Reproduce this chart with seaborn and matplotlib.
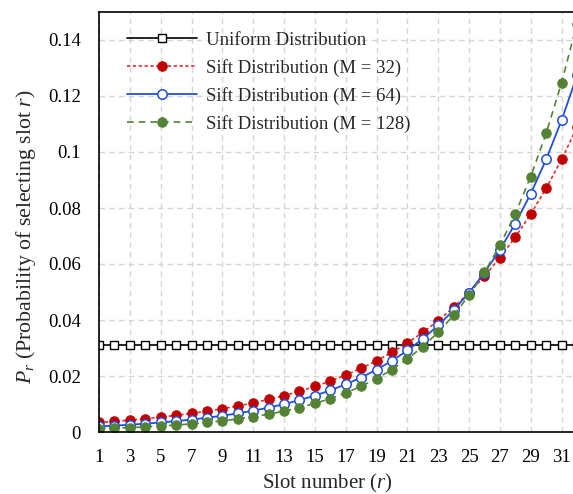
import numpy as np
import pandas as pd
import matplotlib
matplotlib.use("Agg")
import matplotlib.pyplot as plt
import seaborn as sns

slots = list(range(1, 33))
uniform = [0.03125] * 32
sift_32 = [0.003402, 0.003804, 0.004254, 0.004757, 0.005320, 0.005949, 0.006653, 0.007440,
           0.008320, 0.009304, 0.010404, 0.011635, 0.013011, 0.014550, 0.016271, 0.018196,
           0.020348, 0.022755, 0.025447, 0.028457, 0.031823, 0.035587, 0.039797, 0.044504,
           0.049768, 0.055656, 0.062239, 0.069601, 0.077834, 0.087040, 0.097338, 0.108850]
sift_64 = [0.001990, 0.002275, 0.002602, 0.002975, 0.003403, 0.003891, 0.004450, 0.005089,
           0.005819, 0.006655, 0.007610, 0.008703, 0.009952, 0.011381, 0.013015, 0.014883,
           0.017020, 0.019463, 0.022258, 0.025453, 0.029108, 0.033287, 0.038065, 0.043530,
           0.049780, 0.056926, 0.065099, 0.074445, 0.085133, 0.097355, 0.111347, 0.127330]
sift_128 = [0.001140, 0.001333, 0.001559, 0.001823, 0.002131, 0.002492, 0.002915, 0.003409,
            0.003986, 0.004662, 0.005451, 0.006375, 0.007455, 0.008719, 0.010196, 0.011923,
            0.013943, 0.016306, 0.019069, 0.022300, 0.026078, 0.030497, 0.035664, 0.041707,
            0.048774, 0.057038, 0.066702, 0.078004, 0.091221, 0.106676, 0.124731, 0.145863]
labels = ["Uniform Distribution", "Sift Distribution (M = 32)",
          "Sift Distribution (M = 64)", "Sift Distribution (M = 128)"]
x_ticks = list(range(1, 32, 2))
y_ticks = [0, 0.02, 0.04, 0.06, 0.08, 0.1, 0.12, 0.14]
y_ticklabels = ["0", "0.02", "0.04", "0.06", "0.08", "0.1", "0.12", "0.14"]

sns.set_style("white")
plt.rcParams['font.family'] = ['Liberation Serif', 'DejaVu Serif']
plt.rcParams['mathtext.fontset'] = 'custom'
plt.rcParams['mathtext.rm'] = 'Liberation Serif'
plt.rcParams['mathtext.it'] = 'Liberation Serif:italic'

fig = plt.figure(figsize=(5.73, 4.94), dpi=100)
ax = fig.add_axes([99/573, 62/494, 478/573, 420/494])

styles = [
    dict(color="black", linestyle="-", marker="s", markersize=6, markerfacecolor="white",
         markeredgecolor="black", markeredgewidth=1.0, linewidth=1.2),
    dict(color="#E0302A", linestyle=(0, (2, 1.5)), marker="o", markersize=6.8,
         markerfacecolor="#C00000", markeredgecolor="#C00000", linewidth=1.2),
    dict(color="#1F4FE0", linestyle="-", marker="o", markersize=6.8, markerfacecolor="white",
         markeredgecolor="#1F4FE0", markeredgewidth=1.1, linewidth=1.3),
    dict(color="#548235", linestyle=(0, (4, 3)), marker="o", markersize=6.8,
         markerfacecolor="#548235", markeredgecolor="#548235", linewidth=1.2),
]
series = [uniform, sift_32, sift_64, sift_128]

for vals, lab, st in zip(series, labels, styles):
    df = pd.DataFrame({"slot": slots, "p": vals})
    sns.lineplot(data=df, x="slot", y="p", ax=ax, label=lab, **st)

ax.set_xlim(1, 32)
ax.set_ylim(0, 0.15)
ax.set_xticks(x_ticks)
ax.set_xticklabels([str(t) for t in x_ticks])
ax.set_yticks(y_ticks)
ax.set_yticklabels(y_ticklabels)
ax.tick_params(axis="both", length=0, labelsize=13.5, colors="black")
ax.tick_params(axis="x", pad=12)
ax.tick_params(axis="y", pad=13)
ax.grid(True, color="#d4d4d4", linestyle=(0, (4, 3)), linewidth=1.0)
ax.set_axisbelow(True)
for s in ["left", "bottom", "top"]:
    ax.spines[s].set_color("black")
    ax.spines[s].set_linewidth(1.2)
ax.spines["right"].set_visible(False)

ax.set_xlabel(r"Slot number ($r$)", fontsize=15)
ax.xaxis.label.set_va("center")
ax.xaxis.set_label_coords((327.5 - 99) / 478, (11 - 62) / 420)
ax.set_ylabel(r"$P_r$ (Probability of selecting slot $r$)", fontsize=15.7)
ax.yaxis.label.set_va("center")
ax.yaxis.set_label_coords((26 - 99) / 478, (257 - 62) / 420)

leg = ax.legend(loc="upper left", bbox_to_anchor=(0.024, 0.994), frameon=False,
                fontsize=13.5, handlelength=3.7, handletextpad=0.5, labelspacing=0.54)

fig.savefig("out.png", dpi=100)
